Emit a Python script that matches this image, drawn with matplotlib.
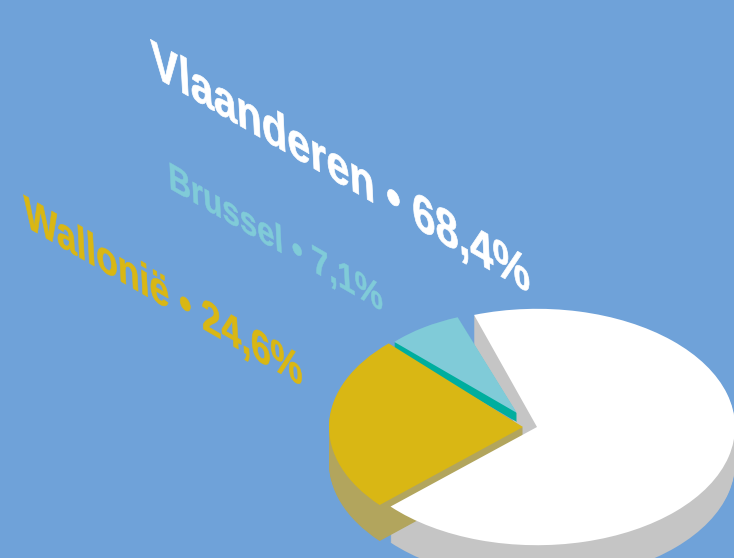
import matplotlib
matplotlib.use('Agg')
import matplotlib.pyplot as plt
import matplotlib.patheffects as pe
from matplotlib.transforms import Affine2D

regions = ['Vlaanderen', 'Brussel', 'Wallonië']
shares = [68.4, 7.1, 24.6]
share_labels = ['68,4%', '7,1%', '24,6%']

bg = '#6FA2D9'
top_colors = ['#FFFFFF', '#80CBD8', '#D9B714']
wall_colors = ['#C5C5C5', '#00AE9E', '#B2A55D']

W, H = 734, 558
squash = 117 / 196

# slice geometry in pixels: centre x, centre y, radius, start angle, wall height
slices = [(537, 427, 198, 222.3, 36),
          (517, 413, 171, 110.3, 9),
          (523, 427, 194, 133.8, 36)]
draw_order = [0, 1, 2]

# text placement: x, y of baseline start, size, horizontal scale, vertical scale, stroke
label_pos = [(152, 75, 35, 0.985, 0.9, 0.5),
             (169, 188, 26, 1.0, 0.9, 0.35),
             (25, 226, 29, 1.02, 0.95, 0.4)]


class Shear(pe.AbstractPathEffect):
    # makes the rotated text lie flat like the pie
    def __init__(self, deg, sx=1.0, sy=1.0, stroke=0.0):
        super().__init__()
        self.deg = deg
        self.sx = sx
        self.sy = sy
        self.stroke = stroke

    def draw_path(self, renderer, gc, tpath, affine, rgbFace=None):
        t = Affine2D().scale(self.sx, self.sy).skew_deg(self.deg, 0) + affine
        gc0 = renderer.new_gc()
        gc0.copy_properties(gc)
        gc0.set_foreground(rgbFace)
        gc0.set_linewidth(self.stroke)
        renderer.draw_path(gc0, tpath, t, rgbFace)
        gc0.restore()


def to_y(py):
    return (H - py) / squash


fig = plt.figure(figsize=(W / 100, H / 100), dpi=100, facecolor=bg)
ax = fig.add_axes([0, 0, 1, 1])


def draw_slice(i, py_offset, color):
    cx, cy, r, start, _ = slices[i]
    ax.pie([shares[i], 100 - shares[i]], startangle=start, radius=r,
           center=(cx, to_y(cy + py_offset)), colors=[color, 'none'],
           wedgeprops={'linewidth': 0}, normalize=True)


for i in draw_order:
    for step in range(slices[i][4], 0, -1):
        draw_slice(i, step, wall_colors[i])
    if i != 0:
        draw_slice(i, 0, top_colors[i])
draw_slice(0, 0, top_colors[0])

ax.set_aspect('auto')
ax.set_xlim(0, W)
ax.set_ylim(0, H / squash)
ax.axis('off')

for name, val, color, (x, y, size, sx, sy, stroke) in zip(regions, share_labels, top_colors, label_pos):
    ax.text(x, to_y(y), f'{name} • {val}', color=color, fontsize=size, fontweight='bold',
            family=['Liberation Sans Narrow', 'Liberation Sans'],
            rotation=-30, rotation_mode='anchor', ha='left', va='baseline',
            path_effects=[Shear(-33, sx, sy, stroke)])

fig.savefig('out.png', dpi=100, facecolor=bg)
